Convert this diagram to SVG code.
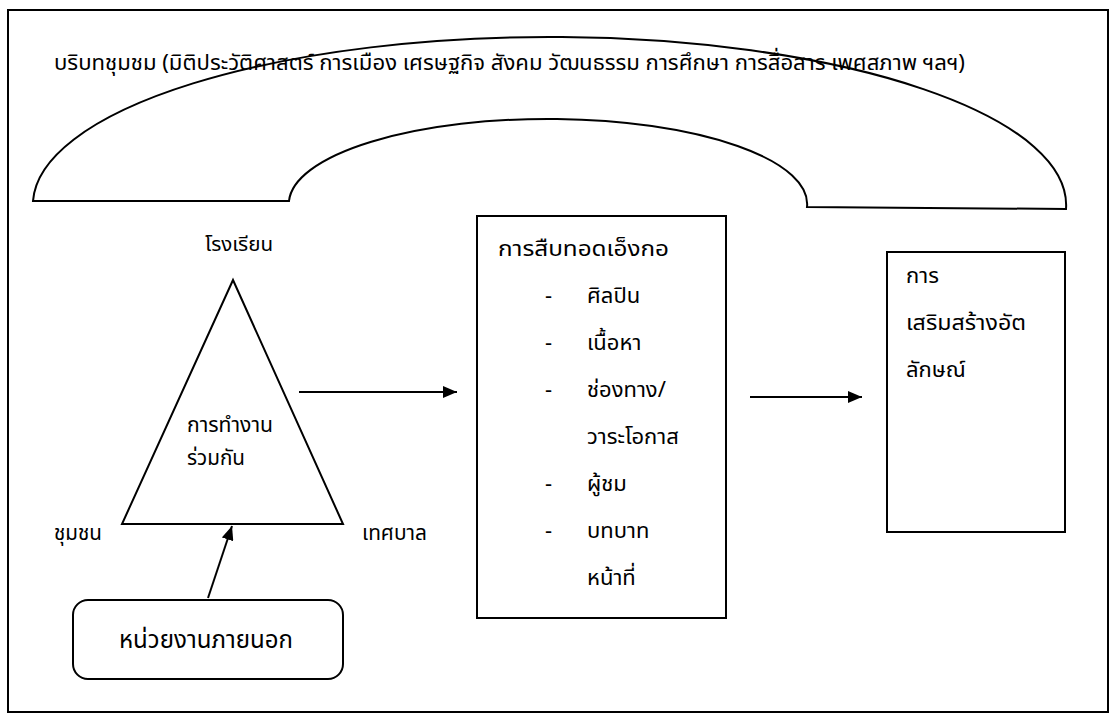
<svg xmlns="http://www.w3.org/2000/svg" width="1120" height="719" viewBox="0 0 1120 719">
<defs>
<style>
text{font-family:"Noto Sans Thai","Noto Sans","DejaVu Sans",sans-serif;font-size:22px;fill:#000}
.ln{fill:none;stroke:#000;stroke-width:2}
.big{font-size:24px}
.sm{font-size:20px}
</style>
<marker id="ah2" markerWidth="14" markerHeight="12" refX="14" refY="6" orient="auto" markerUnits="userSpaceOnUse" viewBox="0 0 14 12">
<path d="M0,0 L14,6 L0,12 z" fill="#000"/>
</marker>
</defs>
<rect width="1120" height="719" fill="#fff"/>
<rect id="frame" x="8" y="10" width="1100" height="702" class="ln"/>
<g id="context">
<path class="ln" d="M33,201 L289,201 A259,85 0 0 1 807,207 L1066,209 A516.5,168 0 0 0 33,201 Z"/>
<text x="54" y="70" textLength="911" lengthAdjust="spacingAndGlyphs">บริบทชุมชม (มิติประวัติศาสตร์ การเมือง เศรษฐกิจ สังคม วัฒนธรรม การศึกษา  การสื่อสาร เพศสภาพ ฯลฯ)</text>
</g>
<g id="collab">
<path class="ln" d="M233,280 L343,524 L122,524 Z"/>
<text x="205" y="251" class="sm" textLength="68" lengthAdjust="spacingAndGlyphs">โรงเรียน</text>
<text x="187" y="432" textLength="86" lengthAdjust="spacingAndGlyphs">การทำงาน</text>
<text x="187" y="465" textLength="58" lengthAdjust="spacingAndGlyphs">ร่วมกัน</text>
<text x="54" y="540" textLength="48" lengthAdjust="spacingAndGlyphs">ชุมชน</text>
<text x="362" y="540" textLength="65" lengthAdjust="spacingAndGlyphs">เทศบาล</text>
</g>
<g id="external">
<rect x="73" y="600" width="270" height="79" rx="15" class="ln"/>
<text x="119" y="648" class="big" textLength="174" lengthAdjust="spacingAndGlyphs">หน่วยงานภายนอก</text>
</g>
<g id="inheritance">
<rect x="477" y="216" width="249" height="402" class="ln"/>
<text x="498" y="256" textLength="171" lengthAdjust="spacingAndGlyphs">การสืบทอดเอ็งกอ</text>
<g>
<text x="545" y="303">-</text>
<text x="545" y="350">-</text>
<text x="545" y="397">-</text>
<text x="545" y="491">-</text>
<text x="545" y="538">-</text>
</g>
<text x="587" y="303">ศิลปิน</text>
<text x="587" y="350">เนื้อหา</text>
<text x="587" y="397">ช่องทาง/</text>
<text x="587" y="444">วาระโอกาส</text>
<text x="587" y="491">ผู้ชม</text>
<text x="587" y="538">บทบาท</text>
<text x="587" y="585">หน้าที่</text>
</g>
<g id="identity">
<rect x="887" y="252" width="178" height="280" class="ln"/>
<text x="906" y="283">การ</text>
<text x="906" y="330" textLength="120" lengthAdjust="spacingAndGlyphs">เสริมสร้างอัต</text>
<text x="906" y="377">ลักษณ์</text>
</g>
<g id="connectors">
<line x1="299" y1="392" x2="457" y2="392" class="ln" marker-end="url(#ah2)"/>
<line x1="750" y1="397" x2="862" y2="397" class="ln" marker-end="url(#ah2)"/>
<line x1="208" y1="598" x2="232" y2="526" class="ln" marker-end="url(#ah2)"/>
</g>
</svg>
